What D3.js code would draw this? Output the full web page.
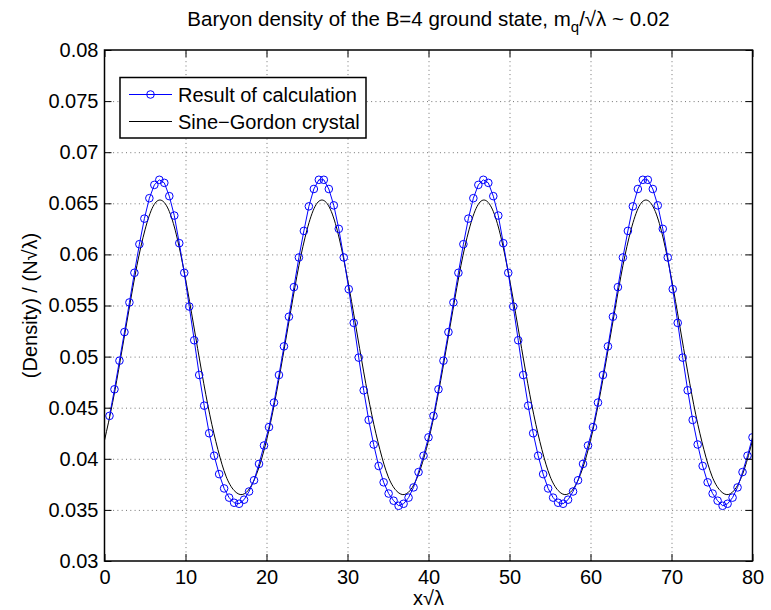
<!DOCTYPE html>
<html>
<head>
<meta charset="utf-8">
<script src="https://cdn.jsdelivr.net/npm/d3@7"></script>
<style>
body { margin: 0; background: #fff; }
svg { display: block; font-family: "Liberation Sans", Arial, Helvetica, sans-serif; }
.grid line { stroke: #000; stroke-opacity: 0.55; stroke-dasharray: 1,3.3; }
.grid path, .axis path { display: none; }
.axis line { stroke: #000; stroke-width: 1; }
.axis text { font-size: 20px; fill: #000; }
</style>
</head>
<body>
<svg width="771" height="610"></svg>
<script>
// tick values and labels
var xTicks = [0, 10, 20, 30, 40, 50, 60, 70, 80];
var yTicks = [0.03, 0.035, 0.04, 0.045, 0.05, 0.055, 0.06, 0.065, 0.07, 0.075, 0.08];
var yTickLabels = ["0.03", "0.035", "0.04", "0.045", "0.05", "0.055", "0.06", "0.065", "0.07", "0.075", "0.08"];

var seriesNames = ["Result of calculation", "Sine\u2212Gordon crystal"];

// blue points: 130 samples, step 80/130 starting at the first step
var resultStep = 80 / 130;
var resultDensity = [
  0.0442, 0.0468, 0.0496, 0.0524, 0.0553, 0.0582, 0.0610, 0.0635, 0.0655, 0.0668,
  0.0673, 0.0670, 0.0657, 0.0638, 0.0611, 0.0582, 0.0549, 0.0516, 0.0482, 0.0452,
  0.0425, 0.0403, 0.0385, 0.0371, 0.0362, 0.0357, 0.0356, 0.0360, 0.0368, 0.0379,
  0.0395, 0.0413,
  0.0431, 0.0455, 0.0482, 0.0510, 0.0539, 0.0568, 0.0597, 0.0623, 0.0647, 0.0664,
  0.0673, 0.0673, 0.0664, 0.0648, 0.0625, 0.0597, 0.0566, 0.0533, 0.0499, 0.0467,
  0.0438, 0.0414, 0.0393, 0.0377, 0.0366, 0.0359, 0.0354, 0.0356, 0.0362, 0.0372,
  0.0387, 0.0403, 0.0421,
  0.0442, 0.0468, 0.0496, 0.0524, 0.0553, 0.0582, 0.0610, 0.0635, 0.0655, 0.0668,
  0.0673, 0.0670, 0.0657, 0.0638, 0.0611, 0.0582, 0.0549, 0.0516, 0.0482, 0.0452,
  0.0425, 0.0403, 0.0385, 0.0371, 0.0362, 0.0357, 0.0356, 0.0360, 0.0368, 0.0379,
  0.0395, 0.0413,
  0.0431, 0.0455, 0.0482, 0.0510, 0.0539, 0.0568, 0.0597, 0.0623, 0.0647, 0.0664,
  0.0673, 0.0673, 0.0664, 0.0648, 0.0625, 0.0597, 0.0566, 0.0533, 0.0499, 0.0467,
  0.0438, 0.0414, 0.0393, 0.0377, 0.0366, 0.0359, 0.0354, 0.0356, 0.0362, 0.0372,
  0.0387, 0.0403, 0.0421
];

// black curve, read at x = 0, 1, 2 ... 80
var sineGordon = [
  0.0418, 0.0455, 0.0499, 0.0545, 0.0589, 0.0624, 0.0647, 0.0653, 0.0642, 0.0615,
  0.0576, 0.0531, 0.0485, 0.0443, 0.0409, 0.0383, 0.0369, 0.0365, 0.0372, 0.0390,
  0.0418, 0.0455, 0.0499, 0.0545, 0.0589, 0.0624, 0.0647, 0.0653, 0.0642, 0.0615,
  0.0576, 0.0531, 0.0485, 0.0443, 0.0409, 0.0383, 0.0369, 0.0365, 0.0372, 0.0390,
  0.0418, 0.0455, 0.0499, 0.0545, 0.0589, 0.0624, 0.0647, 0.0653, 0.0642, 0.0615,
  0.0576, 0.0531, 0.0485, 0.0443, 0.0409, 0.0383, 0.0369, 0.0365, 0.0372, 0.0390,
  0.0418, 0.0455, 0.0499, 0.0545, 0.0589, 0.0624, 0.0647, 0.0653, 0.0642, 0.0615,
  0.0576, 0.0531, 0.0485, 0.0443, 0.0409, 0.0383, 0.0369, 0.0365, 0.0372, 0.0390,
  0.0418
];

var svg = d3.select("svg"),
    margin = {top: 50, right: 18.5, bottom: 49, left: 104.5},
    width = +svg.attr("width") - margin.left - margin.right,
    height = +svg.attr("height") - margin.top - margin.bottom,
    g = svg.append("g").attr("transform", "translate(" + margin.left + "," + margin.top + ")");

svg.insert("rect", ":first-child").attr("width", 771).attr("height", 610).attr("fill", "#fff");

var x = d3.scaleLinear().domain([0, 80]).range([0, width]),
    y = d3.scaleLinear().domain([0.03, 0.08]).range([height, 0]);

var blueData = resultDensity.map(function(v, i) { return {x: (i + 1) * resultStep, y: v}; });
var blackData = sineGordon.map(function(v, i) { return {x: i, y: v}; });

// dotted grid
g.append("g")
    .attr("class", "grid")
    .attr("transform", "translate(0," + height + ")")
    .call(d3.axisBottom(x).tickValues(xTicks.slice(1, -1)).tickSizeInner(-height).tickSizeOuter(0).tickFormat(""));
g.append("g")
    .attr("class", "grid")
    .call(d3.axisLeft(y).tickValues(yTicks.slice(1, -1)).tickSizeInner(-width).tickSizeOuter(0).tickFormat(""));

// clip to the axes box
g.append("clipPath").attr("id", "clip")
  .append("rect").attr("width", width).attr("height", height);

var plot = g.append("g").attr("clip-path", "url(#clip)");

var blackLine = d3.line()
    .curve(d3.curveNatural)
    .x(function(d) { return x(d.x); })
    .y(function(d) { return y(d.y); });

var blueLine = d3.line()
    .x(function(d) { return x(d.x); })
    .y(function(d) { return y(d.y); });

plot.append("path")
    .datum(blackData)
    .attr("fill", "none")
    .attr("stroke", "#000")
    .attr("stroke-width", 1)
    .attr("d", blackLine);

plot.append("path")
    .datum(blueData)
    .attr("fill", "none")
    .attr("stroke", "#0000ff")
    .attr("stroke-width", 1)
    .attr("d", blueLine);

plot.selectAll(".pt")
    .data(blueData)
    .enter().append("circle")
    .attr("class", "pt")
    .attr("cx", function(d) { return x(d.x); })
    .attr("cy", function(d) { return y(d.y); })
    .attr("r", 3.8)
    .attr("fill", "none")
    .attr("stroke", "#0000ff")
    .attr("stroke-width", 1);

// axes with inward ticks on all four sides
g.append("g")
    .attr("class", "axis")
    .attr("transform", "translate(0," + height + ")")
    .call(d3.axisBottom(x).tickValues(xTicks).tickSizeInner(-7).tickSizeOuter(0).tickPadding(9))
    .selectAll("text").attr("dy", "0.71em");

g.append("g")
    .attr("class", "axis")
    .call(d3.axisTop(x).tickValues(xTicks).tickSizeInner(-7).tickSizeOuter(0).tickFormat(""));

g.append("g")
    .attr("class", "axis")
    .call(d3.axisLeft(y).tickValues(yTicks).tickSizeInner(-7).tickSizeOuter(0).tickPadding(6)
        .tickFormat(function(d, i) { return yTickLabels[i]; }));

g.append("g")
    .attr("class", "axis")
    .attr("transform", "translate(" + width + ",0)")
    .call(d3.axisRight(y).tickValues(yTicks).tickSizeInner(-7).tickSizeOuter(0).tickFormat(""));

// box
g.append("rect")
    .attr("width", width)
    .attr("height", height)
    .attr("fill", "none")
    .attr("stroke", "#000")
    .attr("stroke-width", 1.5);

// legend
var legend = g.append("g").attr("transform", "translate(" + (120 - margin.left) + "," + (77.5 - margin.top) + ")");
legend.append("rect")
    .attr("width", 246)
    .attr("height", 60.5)
    .attr("fill", "#fff")
    .attr("stroke", "#000")
    .attr("stroke-width", 1.5);
legend.append("line").attr("x1", 9).attr("x2", 52).attr("y1", 17).attr("y2", 17)
    .attr("stroke", "#0000ff");
legend.append("circle").attr("cx", 30.5).attr("cy", 17).attr("r", 3.8)
    .attr("fill", "none").attr("stroke", "#0000ff");
legend.append("line").attr("x1", 9).attr("x2", 52).attr("y1", 44).attr("y2", 44)
    .attr("stroke", "#000");
legend.selectAll(".lt")
    .data(seriesNames)
    .enter().append("text")
    .attr("x", 58)
    .attr("y", function(d, i) { return 17 + i * 27; })
    .attr("dy", "0.35em")
    .style("font-size", "20px")
    .text(function(d) { return d; });

// title
var title = svg.append("text")
    .attr("x", margin.left + width / 2)
    .attr("y", 26)
    .style("text-anchor", "middle")
    .style("font-size", "20.5px");
title.append("tspan").text("Baryon density of the B=4 ground state, m");
title.append("tspan").attr("dy", 6).style("font-size", "15px").text("q");
title.append("tspan").attr("dy", -6).text("/\u221A\u03BB ~ 0.02");

// y axis title
svg.append("text")
    .attr("transform", "translate(37," + (margin.top + height / 2) + ") rotate(-90)")
    .style("text-anchor", "middle")
    .style("font-size", "20px")
    .text("(Density) / (N\u221A\u03BB)");

// x axis title
svg.append("text")
    .attr("x", margin.left + width / 2)
    .attr("y", 605)
    .style("text-anchor", "middle")
    .style("font-size", "20px")
    .text("x\u221A\u03BB");
</script>
</body>
</html>
